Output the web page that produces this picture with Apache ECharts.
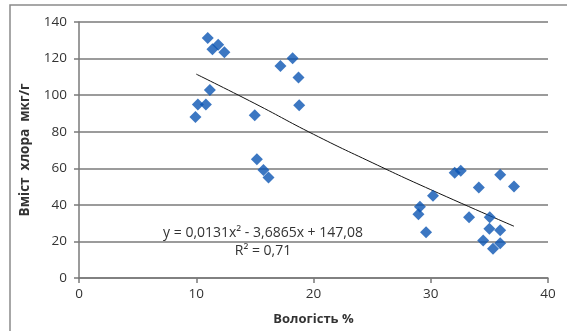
<!DOCTYPE html>
<html><head><meta charset="utf-8">
<script src="https://cdn.jsdelivr.net/npm/echarts@6/dist/echarts.min.js"></script>
<style>html,body{margin:0;padding:0;background:#fff}#c{width:567px;height:331px}</style>
</head><body><div id="c"></div>
<script>
const moisture = [10.98,11.38,11.87,12.40,11.16,10.14,10.82,9.93,14.99,15.17,15.73,16.16,17.18,18.22,18.72,18.78,29.08,28.95,29.60,30.19,32.04,32.56,33.27,34.10,34.47,35.03,35.00,35.31,35.92,35.92,35.92,37.10];
const chlorine = [131.3,125.1,127.5,123.5,102.8,94.9,94.9,88.0,89.0,64.9,59.1,55.0,115.9,120.2,109.7,94.5,39.0,34.8,25.0,45.0,57.5,58.6,33.2,49.5,20.5,33.2,27.0,16.0,26.1,19.0,56.4,50.1];
const trendX = [10,15,20,25,30,37.1];
const trendY = [111.5,95.4,78.6,63.1,48.3,28.3];
const xTicks = [0,10,20,30,40];
const yTicks = [0,20,40,60,80,100,120,140];
const equation = 'y = 0,0131x² - 3,6865x + 147,08';
const rSquared = 'R² = 0,71';

const chart = echarts.init(document.getElementById('c'));
const font = '"Open Sans", "Noto Sans", sans-serif';
chart.setOption({
  animation:false,
  grid:{left:79,right:19,top:22,bottom:51,containLabel:false},
  xAxis:{type:'value',min:xTicks[0],max:xTicks[xTicks.length-1],interval:10,
    name:'Вологість %',nameLocation:'middle',nameGap:35,
    nameTextStyle:{fontFamily:font,fontWeight:'bold',fontSize:13,color:'#333'},
    axisLine:{lineStyle:{color:'#7a7a7a',width:1.5}},
    axisTick:{show:true,length:5,lineStyle:{color:'#7a7a7a',width:1.5}},
    axisLabel:{fontFamily:font,fontSize:13.5,color:'#333',margin:9},
    splitLine:{show:false}},
  yAxis:{type:'value',min:yTicks[0],max:yTicks[yTicks.length-1],interval:20,
    name:'Вміст  хлора  мкг/г',nameLocation:'middle',nameGap:47,
    nameTextStyle:{fontFamily:font,fontWeight:'bold',fontSize:13.5,color:'#333'},
    axisLine:{show:true,lineStyle:{color:'#7a7a7a',width:1.5}},
    axisTick:{show:true,length:5,lineStyle:{color:'#7a7a7a',width:1.5}},
    axisLabel:{fontFamily:font,fontSize:13.5,color:'#333',margin:12},
    splitLine:{show:true,lineStyle:{color:'#7a7a7a',width:1.5}}},
  graphic:[
    {type:'rect',shape:{x:10,y:5,width:700,height:500},style:{fill:'none',stroke:'#8a8a8a',lineWidth:1.5},silent:true,z:-1},
    {type:'text',x:263,y:233,style:{text:equation,fontFamily:font,fontSize:14,fill:'#333',align:'center',verticalAlign:'middle'},z:10},
    {type:'text',x:263,y:251,style:{text:rSquared,fontFamily:font,fontSize:14,fill:'#333',align:'center',verticalAlign:'middle'},z:10}
  ],
  series:[
    {type:'line',data:trendX.map((x,i)=>[x,trendY[i]]),smooth:true,showSymbol:false,
      lineStyle:{color:'#111',width:1},z:3},
    {type:'scatter',data:moisture.map((x,i)=>[x,chlorine[i]]),symbol:'diamond',symbolSize:12,
      itemStyle:{color:'#0b55b3'},z:4}
  ]
});
</script></body></html>
